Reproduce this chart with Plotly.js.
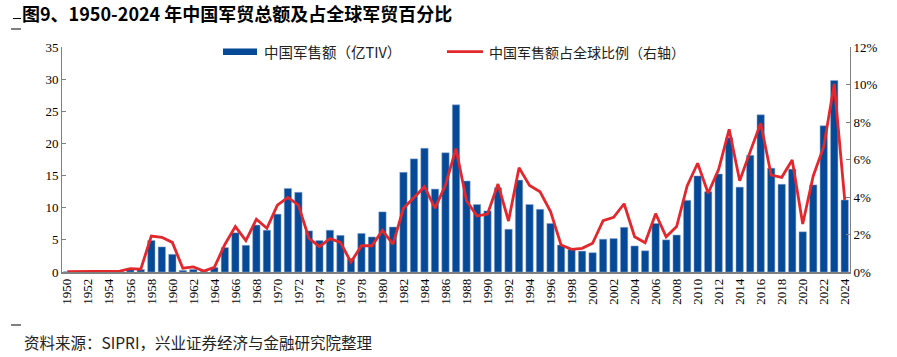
<!DOCTYPE html>
<html>
<head>
<meta charset="utf-8">
<script src="https://cdn.plot.ly/plotly-3.0.1.min.js"></script>
<style>
  html, body { margin: 0; padding: 0; background: #ffffff; }
  #chart { width: 897px; height: 357px; }
</style>
</head>
<body>
<div id="chart"></div>
<script>
// ---- data ----
const years = [
  1950,1951,1952,1953,1954,1955,1956,1957,1958,1959,
  1960,1961,1962,1963,1964,1965,1966,1967,1968,1969,
  1970,1971,1972,1973,1974,1975,1976,1977,1978,1979,
  1980,1981,1982,1983,1984,1985,1986,1987,1988,1989,
  1990,1991,1992,1993,1994,1995,1996,1997,1998,1999,
  2000,2001,2002,2003,2004,2005,2006,2007,2008,2009,
  2010,2011,2012,2013,2014,2015,2016,2017,2018,2019,
  2020,2021,2022,2023,2024
];
// 中国军售额（亿TIV）
const salesTIV = [
  0.05,0.05,0.05,0.05,0.1,0.1,0.4,0.4,4.9,3.9,
  2.75,0.25,0.4,0.1,0.7,3.8,6.1,4.15,7.3,6.5,
  9.0,13.0,12.4,6.4,4.9,6.5,5.7,2.1,6.0,5.45,
  9.35,7.0,15.5,17.6,19.25,12.9,18.55,26.0,14.15,10.5,
  9.5,13.1,6.65,14.3,10.5,9.75,7.55,4.2,3.5,3.25,
  3.0,5.1,5.2,6.95,4.05,3.3,7.55,5.0,5.75,11.15,
  14.95,12.5,15.25,20.9,13.2,18.15,24.45,16.15,13.65,16.0,
  6.25,13.55,22.75,29.8,11.2
];
// 中国军售额占全球比例（%，右轴）
const sharePct = [
  0.02,0.02,0.02,0.02,0.05,0.05,0.18,0.15,1.92,1.85,
  1.58,0.2,0.27,0.05,0.25,1.47,2.42,1.67,2.81,2.33,
  3.57,3.98,3.57,1.8,1.35,1.78,1.58,0.53,1.4,1.4,
  2.22,1.49,3.4,3.98,4.55,3.4,4.64,6.58,3.8,2.99,
  3.09,4.69,2.72,5.56,4.62,4.28,3.22,1.44,1.21,1.26,
  1.53,2.74,2.92,3.64,1.88,1.56,3.11,1.88,2.42,4.59,
  5.8,4.2,5.48,7.61,4.87,6.42,7.93,5.17,5.05,5.97,
  2.56,5.12,6.68,10.03,3.84
];
const xTickVals = [1950,1952,1954,1956,1958,1960,1962,1964,1966,1968,1970,1972,1974,1976,1978,1980,1982,1984,1986,1988,1990,1992,1994,1996,1998,2000,2002,2004,2006,2008,2010,2012,2014,2016,2018,2020,2022,2024];
const xTickText = xTickVals.map(String);
const barName = '中国军售额（亿TIV）';
const lineName = '中国军售额占全球比例（右轴）';
const titleText = '图9、1950-2024 年中国军贸总额及占全球军贸百分比';
const sourceText = '资料来源：SIPRI，兴业证券经济与金融研究院整理';

// ---- geometry helpers (pixel -> paper) ----
const W = 897, H = 357;
const M = {l: 62, r: 47, t: 47, b: 85};
const PW = W - M.l - M.r, PH = H - M.t - M.b;
const px = x => (x - M.l) / PW;
const py = y => (H - M.b - y) / PH;

const BLUE = '#064a97';
const RED = '#e2282c';
const AXIS = '#808080';
const serif = '"Liberation Serif", "Times New Roman", serif';
const cjk = '"Noto Sans CJK SC", "Noto Sans", sans-serif';

const traces = [
  {
    type: 'bar', x: years, y: salesTIV, name: barName, yaxis: 'y',
    width: 0.7,
    marker: {color: BLUE, line: {color: '#8fa9d2', width: 0.5}},
    showlegend: false, hoverinfo: 'x+y'
  },
  {
    type: 'scatter', mode: 'lines', x: years, y: sharePct, name: lineName, yaxis: 'y2',
    line: {color: RED, width: 2.8},
    showlegend: false
  }
];

const layout = {
  width: W, height: H,
  margin: M,
  paper_bgcolor: '#ffffff', plot_bgcolor: '#ffffff',
  bargap: 0.3,
  title: {
    text: '<b>' + titleText + '</b>',
    x: 22 / W, xanchor: 'left', xref: 'container',
    y: 1 - 15 / H, yanchor: 'middle', yref: 'container',
    font: {family: cjk, size: 18, color: '#000000'}
  },
  xaxis: {
    range: [1949.5, 2024.5],
    tickmode: 'array', tickvals: xTickVals, ticktext: xTickText,
    tickangle: -90, tickfont: {family: serif, size: 13, color: '#000'},
    showgrid: false, zeroline: false,
    showline: true, linecolor: AXIS, linewidth: 1.5,
    ticks: '', fixedrange: true
  },
  yaxis: {
    range: [0, 35], dtick: 5, tick0: 0,
    tickfont: {family: serif, size: 13, color: '#000'},
    showgrid: false, zeroline: false,
    showline: true, linecolor: AXIS, linewidth: 1,
    ticks: 'inside', ticklen: 4, tickcolor: AXIS,
    fixedrange: true
  },
  yaxis2: {
    range: [0, 12], dtick: 2, tick0: 0, ticksuffix: '%',
    overlaying: 'y', side: 'right',
    tickfont: {family: serif, size: 13, color: '#000'},
    showgrid: false, zeroline: false,
    showline: true, linecolor: AXIS, linewidth: 1,
    ticks: 'inside', ticklen: 4, tickcolor: AXIS,
    fixedrange: true
  },
  shapes: [
    // legend: bar swatch
    {type: 'rect', xref: 'paper', yref: 'paper', x0: px(223), x1: px(257), y0: py(55), y1: py(48.5),
     fillcolor: BLUE, line: {width: 0}},
    // legend: line swatch
    {type: 'line', xref: 'paper', yref: 'paper', x0: px(447), x1: px(483), y0: py(51.7), y1: py(51.7),
     line: {color: RED, width: 2.8}},
    // small dashes at left edge
    {type: 'line', xref: 'paper', yref: 'paper', x0: px(13), x1: px(21), y0: py(18.5), y1: py(18.5),
     line: {color: '#000', width: 1}},
    {type: 'line', xref: 'paper', yref: 'paper', x0: px(11), x1: px(21), y0: py(29), y1: py(29),
     line: {color: '#000', width: 1}},
    {type: 'line', xref: 'paper', yref: 'paper', x0: px(11), x1: px(21), y0: py(325), y1: py(325),
     line: {color: '#000', width: 1}}
  ],
  annotations: [
    {text: barName, xref: 'paper', yref: 'paper', x: px(262), y: py(51.7),
     xanchor: 'left', yanchor: 'middle', showarrow: false,
     font: {family: cjk, size: 14.5, color: '#222'}},
    {text: lineName, xref: 'paper', yref: 'paper', x: px(487), y: py(51.7),
     xanchor: 'left', yanchor: 'middle', showarrow: false,
     font: {family: cjk, size: 14, color: '#222'}},
    {text: sourceText, xref: 'paper', yref: 'paper', x: px(22), y: py(341.5),
     xanchor: 'left', yanchor: 'middle', showarrow: false,
     font: {family: cjk, size: 15.5, color: '#222'}}
  ]
};

Plotly.newPlot('chart', traces, layout, {displayModeBar: false, staticPlot: true});
</script>
</body>
</html>
